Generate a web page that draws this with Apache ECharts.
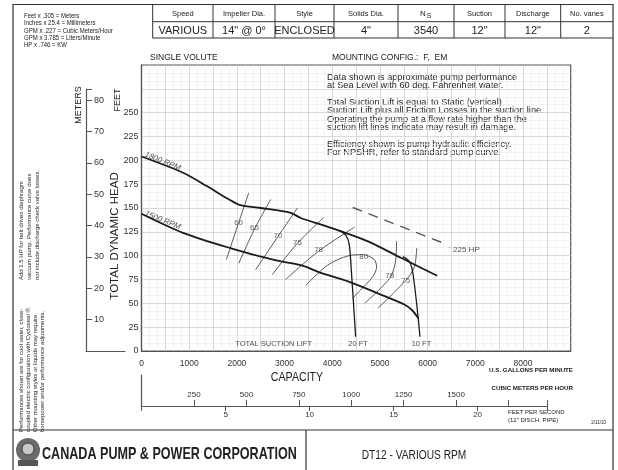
<!DOCTYPE html>
<html>
<head>
<meta charset="utf-8">
<script src="https://cdn.jsdelivr.net/npm/echarts@6/dist/echarts.min.js"></script>
<style>
html, body { margin: 0; padding: 0; background: #fff; }
#chart { width: 618px; height: 470px; }
</style>
</head>
<body>
<div id="chart"></div>
<script>
// head curves, [US gpm, feet]
const rpm1800 = [[0, 204], [870, 187], [1370, 173], [1800, 160], [2070, 153], [2500, 150], [3130, 145], [3340, 139.5], [3800, 132], [4190, 125.5], [4750, 115], [5450, 97.5], [6200, 79]];
const rpm1500 = [[0, 144], [870, 124], [1860, 108], [2780, 95.5], [3340, 90], [3760, 82], [4330, 73], [5100, 57.5], [5520, 48.5], [5670, 43], [5810, 34]];

// suction lift limit lines
const lift20 = [[4150, 126.5], [4290, 121], [4355, 112], [4390, 92], [4490, 15]];
const lift10 = [[5480, 99], [5600, 95], [5670, 87], [5710, 75], [5780, 45], [5840, 15]];

// efficiency arcs
const eff60 = [[2250, 166], [2040, 135], [1780, 96]];
const eff65 = [[2710, 159], [2370, 128], [2040, 92]];
const eff70 = [[3270, 150], [2860, 120], [2390, 85]];
const eff75 = [[3820, 140], [3270, 113], [2740, 80]];
const eff78a = [[4470, 130], [3720, 105], [3020, 75]];
const eff80 = [[3450, 69], [3900, 90], [4350, 100], [4650, 101], [4880, 96], [4930, 88], [4850, 78], [4650, 67], [4420, 55]];
const eff78b = [[5350, 115], [5320, 92], [5200, 76], [4680, 50]];
const eff75b = [[5772, 108], [5720, 88], [5540, 74], [4960, 45]];
const hp225 = [[4430, 150.5], [6370, 112.4]];

// labels on the plot: [text, gpm, feet]
const effLabels = [['60', 2036, 135], ['65', 2368, 129.5], ['70', 2861, 121], ['75', 3270, 113], ['78', 3714, 106], ['80', 4658, 99], ['78', 5207, 79], ['75', 5539, 74]];
const rpmLabels = [['1800 RPM', 444, 199], ['1500 RPM', 444, 137]];
const bottomLabels = [['TOTAL SUCTION LIFT', 2770, 7.5], ['20 FT', 4540, 7.5], ['10 FT', 5870, 7.5]];

// header table
const tableHeads = ['Speed', 'Impeller Dia.', 'Style', 'Solids Dia.', 'N', 'Suction', 'Discharge', 'No. vanes'];
const tableValues = ['VARIOUS', '14" @ 0°', 'ENCLOSED', '4"', '3540', '12"', '12"', '2'];
const colEdges = [152.7, 213, 275, 334, 398, 454, 505, 560.7, 613];

const conversions = ['Feet x .305 = Meters', 'Inches x 25.4 = Millimeters', 'GPM x .227 = Cubic Meters/Hour', 'GPM x 3.785 = Liters/Minute', 'HP x .746 = KW'];
const notes = ['Data shown is approximate pump performance', 'at Sea Level with 60 deg. Fahrenheit water.', '', 'Total Suction Lift is equal to Static (vertical)', 'Suction Lift plus all Friction Losses in the suction line.', 'Operating the pump at a flow rate higher than the', 'suction lift lines indicate may result in damage.', '', 'Efficiency shown is pump hydraulic efficiency.', 'For NPSHR, refer to standard pump curve.'];
const sideNote1 = ['Add 1.5 HP for belt driven diaphragm', 'vacuum pump. Performance curve does', 'not include discharge check valve losses.'];
const sideNote2 = ['Performances shown are for cool water, close-', 'coupled electric configuration with Cycloseal ®.', 'Other mounting styles or liquids may require', 'horsepower and/or performance adjustments.'];

const FONT = '"Liberation Sans", Arial, sans-serif';
var myChart = echarts.init(document.getElementById('chart'), null, { renderer: 'canvas' });

function line(data, color, width, type) {
    return {
        type: 'line', data: data, showSymbol: false, smooth: 0.3, silent: true,
        xAxisIndex: 0, yAxisIndex: 0,
        lineStyle: { color: color, width: width, type: type || 'solid' }
    };
}
function txt(x, y, text, font, align, extra) {
    return Object.assign({
        type: 'text', x: x, y: y, silent: true,
        style: { text: text, font: font, fill: '#222', textAlign: align || 'left', textVerticalAlign: 'middle' }
    }, extra || {});
}
function seg(x1, y1, x2, y2, w) {
    return { type: 'line', silent: true, shape: { x1: x1, y1: y1, x2: x2, y2: y2 }, style: { stroke: '#333', lineWidth: w || 1 } };
}

var graphics = [];
// outer frame and footer
graphics.push({ type: 'rect', silent: true, shape: { x: 13, y: 4.5, width: 600, height: 470 }, style: { fill: 'none', stroke: '#333', lineWidth: 1.2 } });
graphics.push(seg(13, 430, 613, 430, 1.2));
graphics.push(seg(306, 430, 306, 470, 1.2));
// header table
graphics.push(seg(152.7, 4.5, 152.7, 38));
graphics.push(seg(152.7, 38, 613, 38));
graphics.push(seg(152.7, 21.7, 613, 21.7));
colEdges.slice(1, -1).forEach(function (x) { graphics.push(seg(x, 4.5, x, 38)); });
tableHeads.forEach(function (h, i) {
    var cx = (colEdges[i] + colEdges[i + 1]) / 2;
    if (h === 'N') {
        graphics.push(txt(cx - 3, 13.5, 'N', '8px ' + FONT, 'center'));
        graphics.push(txt(cx + 3, 16, 'S', '7px ' + FONT, 'center'));
    } else {
        graphics.push(txt(cx, 13.5, h, '7.5px ' + FONT, 'center'));
    }
    graphics.push(txt(cx, 30.5, tableValues[i], '11px ' + FONT, 'center'));
});
conversions.forEach(function (c, i) { graphics.push(txt(24, 16 + i * 7.3, c, '7px ' + FONT, 'left', { scaleX: 0.86 })); });
graphics.push(txt(150, 58, 'SINGLE VOLUTE', '8.5px ' + FONT));
graphics.push(txt(332, 58, 'MOUNTING CONFIG.:  F,  EM', '8.5px ' + FONT));
notes.forEach(function (n, i) { if (n) graphics.push(txt(327, 77.5 + i * 8.4, n, '8.2px ' + FONT, 'left', { scaleX: 1.12 })); });
// axis titles
graphics.push(txt(118, 100, 'FEET', '9px ' + FONT, 'center', { rotation: Math.PI / 2 }));
graphics.push(txt(79, 105, 'METERS', '9px ' + FONT, 'center', { rotation: Math.PI / 2 }));
graphics.push(txt(115, 236, 'TOTAL DYNAMIC HEAD', '11.5px ' + FONT, 'center', { rotation: Math.PI / 2 }));
graphics.push(txt(297, 378, 'CAPACITY', '12.5px ' + FONT, 'center', { scaleX: 0.85 }));
graphics.push(txt(573, 370, 'U.S. GALLONS PER MINUTE', 'bold 6.2px ' + FONT, 'right'));
graphics.push(txt(573, 388, 'CUBIC METERS PER HOUR', 'bold 6.2px ' + FONT, 'right'));
graphics.push(txt(508, 412.5, 'FEET PER SECOND', '6px ' + FONT));
graphics.push(txt(508, 420, '(12" DISCH. PIPE)', '6px ' + FONT));
graphics.push(txt(606, 423, '2/11/10', '4.5px ' + FONT, 'right'));
// side notes
sideNote1.forEach(function (n, i) { graphics.push(txt(21 + i * 8, 280, n, '6px ' + FONT, 'left', { rotation: Math.PI / 2 })); });
sideNote2.forEach(function (n, i) { graphics.push(txt(21 + i * 7.2, 432, n, '6px ' + FONT, 'left', { rotation: Math.PI / 2 })); });
// footer
graphics.push({ type: 'circle', silent: true, shape: { cx: 28, cy: 450, r: 12 }, style: { fill: '#6a6a6a' } });
graphics.push({ type: 'circle', silent: true, shape: { cx: 28, cy: 449, r: 6 }, style: { fill: '#c8c8c8', stroke: '#444', lineWidth: 1 } });
graphics.push({ type: 'rect', silent: true, shape: { x: 18, y: 460, width: 20, height: 6 }, style: { fill: '#555' } });
graphics.push(txt(42, 454, 'CANADA PUMP & POWER CORPORATION', '900 17px ' + FONT, 'left', { scaleX: 0.74 }));
graphics.push(txt(414, 456, 'DT12 - VARIOUS RPM', '12px ' + FONT, 'center', { scaleX: 0.85 }));

var gridLine = { lineStyle: { color: '#d0d0d0', width: 0.8 }, showMinLine: false, showMaxLine: false };
var minorLine = { show: true, lineStyle: { color: '#ebebeb', width: 0.6 } };

var option = {
    animation: false,
    backgroundColor: '#fff',
    textStyle: { fontFamily: FONT },
    grid: [
        { left: 141.5, top: 65, width: 429.2, height: 286, show: true, borderColor: '#555', borderWidth: 1.2, backgroundColor: 'transparent' },
        { left: 86, top: 89, width: 39, height: 262 },
        { left: 141.6, top: 375, width: 405.4, height: 31 }
    ],
    xAxis: [
        {
            gridIndex: 0, type: 'value', min: 0, max: 9000, interval: 500,
            axisLine: { show: true, lineStyle: { color: '#555', width: 1.2 } },
            axisTick: { show: false },
            minorTick: { show: false, splitNumber: 3 },
            axisLabel: { fontSize: 8.5, color: '#333', margin: 8, formatter: function (v) { return (v % 1000 === 0 && v <= 8000) ? v : ''; } },
            splitLine: gridLine, minorSplitLine: minorLine
        },
        {
            gridIndex: 1, type: 'value', min: 0, max: 1,
            axisLine: { show: true, lineStyle: { color: '#555', width: 1.2 } },
            axisTick: { show: false }, axisLabel: { show: false }, splitLine: { show: false }
        },
        {
            gridIndex: 2, type: 'value', min: 0, max: 1934, interval: 250, position: 'bottom',
            axisLine: { show: true, lineStyle: { color: '#555', width: 1.2 } },
            axisTick: { show: true, inside: true, length: 6, lineStyle: { color: '#555' } },
            axisLabel: { inside: true, fontSize: 8, color: '#333', margin: 7, formatter: function (v) { return v > 0 && v <= 1500 ? v : ''; } },
            splitLine: { show: false }
        },
        {
            gridIndex: 2, type: 'value', min: 0, max: 24.13, interval: 5, position: 'bottom',
            axisLine: { show: true, lineStyle: { color: '#555', width: 1.2 } },
            axisTick: { show: true, length: 5, lineStyle: { color: '#555' } },
            axisLabel: { fontSize: 8, color: '#333', margin: 5, formatter: function (v) { return v > 0 && v <= 20 ? v : ''; } },
            splitLine: { show: false }
        }
    ],
    yAxis: [
        {
            gridIndex: 0, type: 'value', min: 0, max: 300, interval: 25,
            axisLine: { show: true, lineStyle: { color: '#555', width: 1.2 } },
            axisTick: { show: false },
            minorTick: { show: false, splitNumber: 3 },
            axisLabel: { fontSize: 9, color: '#333', margin: 3, formatter: function (v) { return v <= 250 ? v : ''; } },
            splitLine: gridLine, minorSplitLine: minorLine
        },
        {
            gridIndex: 1, type: 'value', min: 0, max: 83.6, interval: 10,
            axisLine: { show: true, lineStyle: { color: '#555', width: 1.2 } },
            axisTick: { show: true, inside: true, length: 6, lineStyle: { color: '#555' } },
            axisLabel: { inside: true, fontSize: 9, color: '#333', margin: 8, formatter: function (v) { return v > 0 && v <= 80 ? v : ''; } },
            splitLine: { show: false }
        },
        {
            gridIndex: 2, type: 'value', min: 0, max: 1,
            axisLine: { show: true, lineStyle: { color: '#555', width: 1.2 } },
            axisTick: { show: false }, axisLabel: { show: false }, splitLine: { show: false }
        }
    ],
    graphic: graphics,
    series: [
        line(eff60, '#444', 0.9), line(eff65, '#444', 0.9), line(eff70, '#444', 0.9), line(eff75, '#444', 0.9),
        line(eff78a, '#444', 0.9), line(eff80, '#444', 0.9), line(eff78b, '#444', 0.9), line(eff75b, '#444', 0.9),
        line(hp225, '#555', 1.4, [10, 7]),
        line(rpm1800, '#1a1a1a', 1.8), line(rpm1500, '#1a1a1a', 1.8),
        line(lift20, '#1a1a1a', 1.3), line(lift10, '#1a1a1a', 1.3),
        {
            type: 'scatter', symbolSize: 1, itemStyle: { color: 'transparent' }, silent: true,
            data: effLabels.map(function (d) { return { name: d[0], value: [d[1], d[2]] }; }),
            label: { show: true, position: 'inside', formatter: '{b}', fontSize: 8, color: '#333', backgroundColor: '#fff', padding: [0, 1] }
        },
        {
            type: 'scatter', symbolSize: 1, itemStyle: { color: 'transparent' }, silent: true,
            data: rpmLabels.map(function (d) { return { name: d[0], value: [d[1], d[2]] }; }),
            label: { show: true, position: 'inside', formatter: '{b}', rotate: -22, fontSize: 8, fontStyle: 'italic', color: '#222' }
        },
        {
            type: 'scatter', symbolSize: 1, itemStyle: { color: 'transparent' }, silent: true,
            data: bottomLabels.map(function (d) { return { name: d[0], value: [d[1], d[2]] }; }),
            label: { show: true, position: 'inside', formatter: '{b}', fontSize: 7.5, color: '#222' }
        },
        {
            type: 'scatter', symbolSize: 1, itemStyle: { color: 'transparent' }, silent: true,
            data: [{ name: '` 225 HP', value: [6420, 106] }],
            label: { show: true, position: 'right', distance: 0, formatter: '{b}', fontSize: 8, color: '#222' }
        }
    ]
};
myChart.setOption(option);
</script>
</body>
</html>
